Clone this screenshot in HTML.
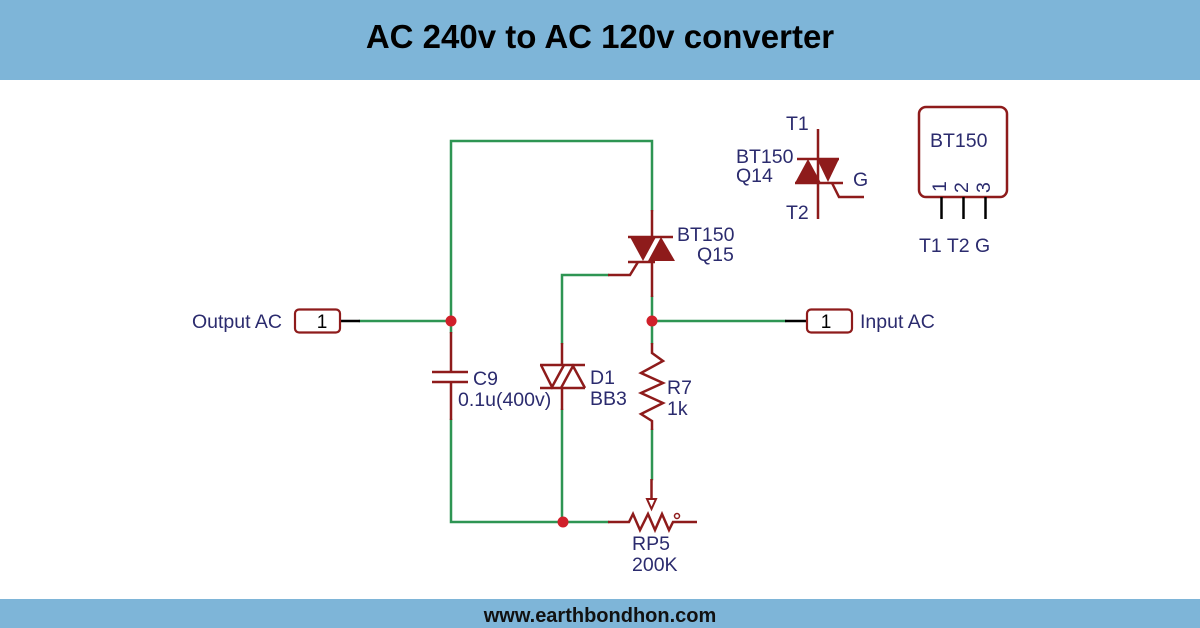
<!DOCTYPE html>
<html>
<head>
<meta charset="utf-8">
<style>
  html, body { margin:0; padding:0; }
  body { width:1200px; height:628px; overflow:hidden; background:#ffffff; }
  svg { display:block; }
  .lbl { font-family:"Liberation Sans", Arial, sans-serif; font-size:19.5px; fill:#2b2b6e; }
  .pin { font-family:"Liberation Sans", Arial, sans-serif; font-size:19px; fill:#000; }
  .g { stroke:#2e9553; stroke-width:2.5; fill:none; stroke-linecap:square; }
  .r { stroke:#8e1b1b; stroke-width:2.5; fill:none; stroke-linejoin:miter; }
  .k { stroke:#000; stroke-width:2.5; fill:none; }
</style>
</head>
<body>
<svg width="1200" height="628" viewBox="0 0 1200 628" xmlns="http://www.w3.org/2000/svg">
  <!-- header & footer -->
  <rect x="0" y="0" width="1200" height="80" fill="#7eb5d8"/>
  <text x="600" y="48" text-anchor="middle" font-family="'Liberation Sans', Arial, sans-serif" font-weight="bold" font-size="33" fill="#000">AC 240v to AC 120v converter</text>
  <rect x="0" y="599" width="1200" height="29" fill="#7eb5d8"/>
  <text x="600" y="622" text-anchor="middle" font-family="'Liberation Sans', Arial, sans-serif" font-weight="bold" font-size="20" fill="#111">www.earthbondhon.com</text>

  <!-- green wires -->
  <path class="g" d="M451,332 V141 H652 V210"/>
  <path class="g" d="M451,420 V522 H608"/>
  <path class="g" d="M360,321 H451"/>
  <path class="g" d="M652,297 V343"/>
  <path class="g" d="M652,321 H785"/>
  <path class="g" d="M608,275 H562 V343"/>
  <path class="g" d="M562,410 V522"/>
  <path class="g" d="M652,430 V479"/>

  <!-- black stubs -->
  <path class="k" d="M340,321 H360"/>
  <path class="k" d="M785,321 H807"/>

  <!-- pin boxes -->
  <rect x="295" y="309.5" width="45" height="23" rx="4" fill="#fff" stroke="#8e1b1b" stroke-width="2.2"/>
  <text class="pin" x="322" y="328" text-anchor="middle">1</text>
  <rect x="807" y="309.5" width="45" height="23" rx="4" fill="#fff" stroke="#8e1b1b" stroke-width="2.2"/>
  <text class="pin" x="826" y="328" text-anchor="middle">1</text>

  <!-- capacitor C9 -->
  <path class="r" d="M451,332 V372 M432,372 H468 M432,382 H468 M451,382 V420"/>

  <!-- Triac Q15 -->
  <path class="r" d="M652,210 V237 M628,237 H673 M628,262 H655 M652,262 V297"/>
  <polygon points="630,237 656,237 643,261" fill="#8e1b1b"/>
  <polygon points="661,237 648,261 675,261" fill="#8e1b1b"/>
  <path class="r" d="M638,262 L630,275 H608"/>

  <!-- DIAC D1 -->
  <path class="r" d="M562,343 V365 M540,365 H585 M540,388 H585 M562,388 V410"/>
  <path class="r" d="M541,365 L552,387 L564,365"/>
  <path class="r" d="M561,388 L573,366 L585,388"/>

  <!-- R7 -->
  <path class="r" d="M652,343 V353 L663,361 L641,373 L663,383 L641,393 L663,403 L641,414 L652,421 V430"/>

  <!-- Pot RP5 -->
  <path class="r" d="M608,522 H629 L633,514 L640,530 L648,514 L655,530 L662,514 L669,530 L673,522 H697"/>
  <circle cx="677" cy="516" r="2.5" fill="#fff" stroke="#8e1b1b" stroke-width="1.5"/>
  <path class="r" d="M651.5,479 V499"/>
  <polygon points="647,499 656,499 651.5,509" fill="#fff" stroke="#8e1b1b" stroke-width="2"/>

  <!-- junctions -->
  <circle cx="451" cy="321" r="5.5" fill="#d0202a"/>
  <circle cx="652" cy="321" r="5.5" fill="#d0202a"/>
  <circle cx="563" cy="522" r="5.5" fill="#d0202a"/>

  <!-- Triac Q14 symbol -->
  <path class="r" d="M818,129 V219 M797,159 H839 M795,183 H843"/>
  <polygon points="795,183 808,159 821,183" fill="#8e1b1b"/>
  <polygon points="817,159 839,159 828,182" fill="#8e1b1b"/>
  <path class="r" d="M832,183 L839,197 H864"/>

  <!-- BT150 package -->
  <rect x="919" y="107" width="88" height="90" rx="7" fill="none" stroke="#8e1b1b" stroke-width="2.5"/>
  <path class="k" d="M941.5,197 V219 M963.5,197 V219 M985.5,197 V219"/>
  <text class="lbl" x="930" y="147">BT150</text>
  <text class="lbl" font-size="16" transform="translate(946,192) rotate(-90)">1</text>
  <text class="lbl" font-size="16" transform="translate(968,193) rotate(-90)">2</text>
  <text class="lbl" font-size="16" transform="translate(990,193) rotate(-90)">3</text>
  <text class="lbl" x="919" y="252">T1 T2 G</text>

  <!-- labels -->
  <text class="lbl" x="192" y="328">Output AC</text>
  <text class="lbl" x="860" y="328">Input AC</text>
  <text class="lbl" x="473" y="385">C9</text>
  <text class="lbl" x="458" y="406">0.1u(400v)</text>
  <text class="lbl" x="590" y="384">D1</text>
  <text class="lbl" x="590" y="405">BB3</text>
  <text class="lbl" x="667" y="394">R7</text>
  <text class="lbl" x="667" y="415">1k</text>
  <text class="lbl" x="677" y="241">BT150</text>
  <text class="lbl" x="697" y="261">Q15</text>
  <text class="lbl" x="632" y="550">RP5</text>
  <text class="lbl" x="632" y="571">200K</text>
  <text class="lbl" x="786" y="130">T1</text>
  <text class="lbl" x="736" y="163">BT150</text>
  <text class="lbl" x="736" y="182">Q14</text>
  <text class="lbl" x="853" y="186">G</text>
  <text class="lbl" x="786" y="219">T2</text>
</svg>
</body>
</html>
